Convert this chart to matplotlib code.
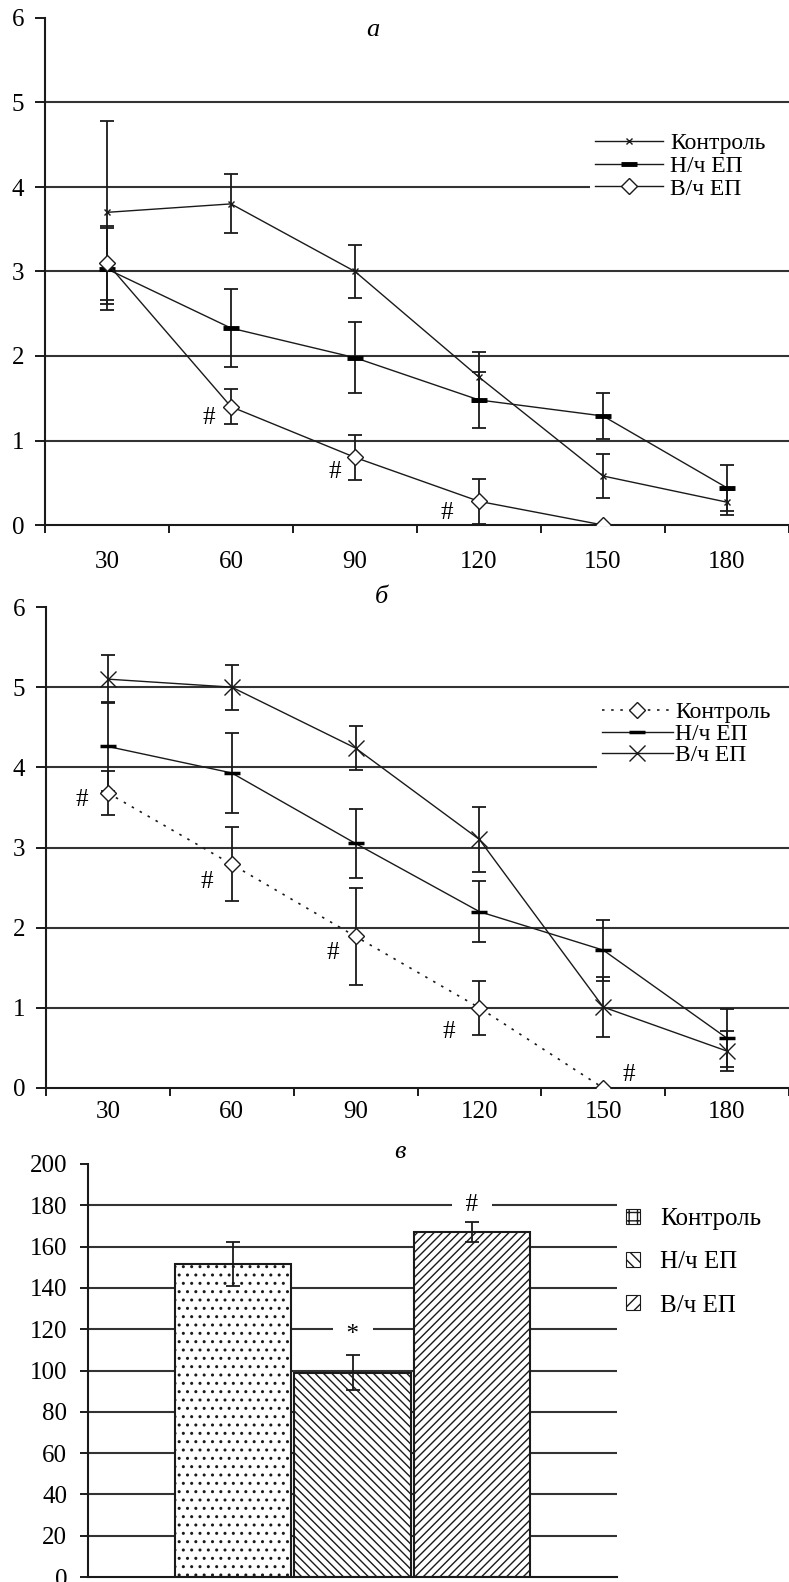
import numpy as np
import matplotlib
matplotlib.use("Agg")
import matplotlib.pyplot as plt
from matplotlib.lines import Line2D
from matplotlib.patches import Patch

plt.rcParams['font.family'] = ['Liberation Serif', 'DejaVu Serif']
plt.rcParams['hatch.linewidth'] = 1.0
plt.rcParams['hatch.color'] = '#333333'

# ---------------- data ----------------
minutes = [30, 60, 90, 120, 150, 180]
series_names = ['Контроль', 'Н/ч ЕП', 'В/ч ЕП']

# panel а
a_control = [3.70, 3.80, 3.00, 1.75, 0.58, 0.27]
a_control_err = [1.08, 0.35, 0.31, 0.30, 0.26, 0.15]
a_lf = [3.03, 2.33, 1.98, 1.48, 1.29, 0.44]
a_lf_err = [0.48, 0.46, 0.42, 0.33, 0.27, 0.27]
a_hf = [3.10, 1.40, 0.80, 0.28, 0.00]
a_hf_err = [0.44, 0.21, 0.27, 0.27, 0.00]
a_marks_x = [0.82, 1.84, 2.74]
a_marks_y = [1.27, 0.63, 0.14]

# panel б
b_control = [3.68, 2.79, 1.89, 1.00, 0.00]
b_control_err = [0.27, 0.46, 0.60, 0.34, 0.00]
b_lf = [4.26, 3.93, 3.05, 2.20, 1.72, 0.62]
b_lf_err = [0.55, 0.50, 0.43, 0.38, 0.38, 0.36]
b_hf = [5.10, 5.00, 4.24, 3.10, 1.01, 0.46]
b_hf_err = [0.30, 0.28, 0.27, 0.40, 0.37, 0.25]
b_marks_x = [-0.21, 0.80, 1.82, 2.75, 4.21]
b_marks_y = [3.59, 2.57, 1.68, 0.70, 0.16]

# panel в
c_values = [151.5, 99.0, 167.0]
c_err = [10.8, 8.5, 4.8]
c_marks = ['*', '#']
c_marks_x = [1, 2]
c_marks_y = [117, 180]

y_ticks_ab = [0, 1, 2, 3, 4, 5, 6]
y_ticks_c = list(range(0, 201, 20))

# ---------------- layout ----------------
W, H = 789, 1582
fig = plt.figure(figsize=(W / 100, H / 100), dpi=100)


def px_axes(left, top, right, bottom):
    return fig.add_axes([left / W, 1 - bottom / H, (right - left) / W, (bottom - top) / H])


LC = '#1a1a1a'
GC = '#333333'


def style_line_axes(ax, xlabel_pad):
    n = len(minutes)
    ax.set_ylim(0, 6)
    ax.set_xlim(-0.5, 5.43)
    ax.set_yticks(y_ticks_ab)
    ax.set_xticks(np.arange(-0.5, n, 1.0))
    ax.set_xticklabels([''] * len(np.arange(-0.5, n, 1.0)))
    ax.set_xticks(np.arange(n), minor=True)
    ax.set_xticklabels([str(m) for m in minutes], minor=True)
    ax.tick_params(axis='x', which='minor', length=0, pad=xlabel_pad, labelsize=18)
    ax.tick_params(axis='x', which='major', length=6, width=1.4, direction='out', color=LC)
    ax.tick_params(axis='y', length=7, width=1.4, direction='out', pad=8, labelsize=18, color=LC)
    for s in ['top', 'right']:
        ax.spines[s].set_visible(False)
    for s in ['left', 'bottom']:
        ax.spines[s].set_linewidth(1.5)
        ax.spines[s].set_color(LC)
    ax.yaxis.grid(True, color=GC, linewidth=1.5)
    for v, gl in zip(y_ticks_ab, ax.get_ygridlines()):
        if v in (0, 6):
            gl.set_visible(False)
    ax.set_axisbelow(True)
    ax.patch.set_visible(False)


# ---------------- panel а ----------------
axA = px_axes(45, 18, 789, 525)
style_line_axes(axA, 19)
xa = np.arange(len(minutes))
axA.errorbar(xa, a_control, yerr=a_control_err, fmt='none', ecolor=LC, elinewidth=1.3, capsize=5, capthick=1.3, zorder=3)
axA.errorbar(xa, a_lf, yerr=a_lf_err, fmt='none', ecolor=LC, elinewidth=1.3, capsize=5, capthick=1.3, zorder=3)
axA.errorbar(xa[:len(a_hf)], a_hf, yerr=a_hf_err, fmt='none', ecolor=LC, elinewidth=1.3, capsize=5, capthick=1.3, zorder=3)
axA.plot(xa, a_control, color=LC, lw=1.0, marker='x', ms=5, mew=1.0, mec=LC, zorder=4, label=series_names[0])
axA.plot(xa, a_lf, color=LC, lw=1.0, marker='_', ms=12, mew=3.5, mec='black', zorder=4, label=series_names[1])
axA.plot(xa[:len(a_hf)], a_hf, color=LC, lw=1.0, marker='D', ms=8, mew=1.0, mfc='white', mec=LC, zorder=5, label=series_names[2])
for x, y in zip(a_marks_x, a_marks_y):
    axA.text(x, y, '#', fontsize=18, ha='center', va='center', zorder=6)
legA = axA.legend(loc='upper left', bbox_to_anchor=(590 / W, 1 - 128 / H - 0.05, (789 - 590) / W, 0.05),
                  bbox_transform=fig.transFigure, mode='expand',
                  fontsize=17, frameon=True, framealpha=1, facecolor='white', edgecolor='none', fancybox=False,
                  handlelength=2.9, handletextpad=0.3, labelspacing=0.05, borderpad=0.2, borderaxespad=0)
fig.text(373 / W, 1 - 30 / H, 'а', fontsize=19, style='italic', ha='center', va='center')

# ---------------- panel б ----------------
axB = px_axes(46, 607, 789, 1088)
style_line_axes(axB, 9)
xb = np.arange(len(minutes))
axB.errorbar(xb[:len(b_control)], b_control, yerr=b_control_err, fmt='none', ecolor=LC, elinewidth=1.3, capsize=5, capthick=1.3, zorder=3)
axB.errorbar(xb, b_lf, yerr=b_lf_err, fmt='none', ecolor=LC, elinewidth=1.3, capsize=5, capthick=1.3, zorder=3)
axB.errorbar(xb, b_hf, yerr=b_hf_err, fmt='none', ecolor=LC, elinewidth=1.3, capsize=5, capthick=1.3, zorder=3)
axB.plot(xb[:len(b_control)], b_control, color=LC, lw=1.2, ls=(0, (1.5, 4)), marker='D', ms=8, mew=1.0, mfc='white', mec=LC, zorder=5, label=series_names[0])
axB.plot(xb, b_lf, color=LC, lw=1.0, marker='_', ms=12, mew=2.5, mec='black', zorder=4, label=series_names[1])
axB.plot(xb, b_hf, color=LC, lw=1.0, marker='x', ms=12, mew=1.0, mec=LC, zorder=4, label=series_names[2])
for x, y in zip(b_marks_x, b_marks_y):
    axB.text(x, y, '#', fontsize=18, ha='center', va='center', zorder=6)
legB = axB.legend(loc='upper left', bbox_to_anchor=(597 / W, 1 - 697 / H - 0.05, (789 - 597) / W, 0.05),
                  bbox_transform=fig.transFigure, mode='expand',
                  fontsize=17, frameon=True, framealpha=1, facecolor='white', edgecolor='none', fancybox=False,
                  handlelength=3.0, handletextpad=0.1, labelspacing=0.0, borderpad=0.2, borderaxespad=0)
fig.text(381 / W, 1 - 597 / H, 'б', fontsize=19, style='italic', ha='center', va='center')

# ---------------- panel в ----------------
axC = px_axes(88, 1164, 617, 1577)
xc = np.arange(len(c_values))
hatches = ['..', '\\\\\\\\', '////']
bars = axC.bar(xc, c_values, width=0.97, color='white', edgecolor=LC, linewidth=1.5, zorder=2)
for b, h in zip(bars, hatches):
    b.set_hatch(h)
axC.errorbar(xc, c_values, yerr=c_err, fmt='none', ecolor=LC, elinewidth=1.3, capsize=5, capthick=1.3, zorder=4)
axC.set_xlim(-1.21, 3.21)
axC.set_ylim(0, 200)
axC.set_yticks(y_ticks_c)
axC.set_xticks([])
axC.tick_params(axis='y', length=6, width=1.4, direction='out', pad=9, labelsize=18, color=LC)
for s in ['top', 'right']:
    axC.spines[s].set_visible(False)
for s in ['left', 'bottom']:
    axC.spines[s].set_linewidth(1.5)
    axC.spines[s].set_color(LC)
axC.yaxis.grid(True, color=GC, linewidth=1.5)
for v, gl in zip(y_ticks_c, axC.get_ygridlines()):
    if v in (0, 200):
        gl.set_visible(False)
axC.set_axisbelow(True)
axC.patch.set_visible(False)
for t, x, y in zip(c_marks, c_marks_x, c_marks_y):
    axC.text(x, y, '  ' + t + '  ', fontsize=18, ha='center', va='center', zorder=1.5,
             bbox=dict(boxstyle='square,pad=0.05', facecolor='white', edgecolor='none'))
handles = [Patch(facecolor='white', edgecolor=LC, hatch=h, linewidth=0.8) for h in ['++', '\\\\\\', '///']]
axC.legend(handles, series_names, loc='upper left', bbox_to_anchor=(626 / W, 1 - 1208 / H), bbox_transform=fig.transFigure,
           fontsize=18, frameon=False, handlelength=0.55, handleheight=0.55, handletextpad=0.8,
           labelspacing=0.85, borderpad=0, borderaxespad=0)
fig.text(400 / W, 1 - 1152 / H, 'в', fontsize=19, style='italic', ha='center', va='center')

fig.savefig('out.png', dpi=100)
